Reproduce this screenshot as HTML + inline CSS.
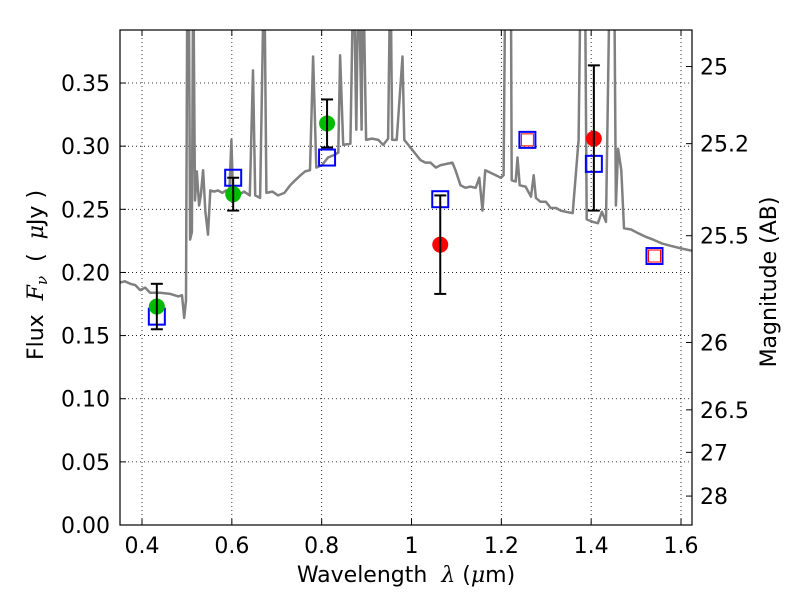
<!DOCTYPE html>
<html><head><meta charset="utf-8"><style>
body{margin:0;background:#fff;}
svg{display:block;font-family:"DejaVu Sans","Liberation Sans",sans-serif;}
</style></head><body>
<svg id="chart" width="800" height="600" viewBox="0 0 800 600"></svg>
<script>
// spectrum data (wavelength um, flux uJy)
const specLam=[0.351,0.362,0.374,0.385,0.396,0.407,0.418,0.440,0.463,0.481,0.489,0.494,0.498,0.501,0.504,0.507,0.511,0.514,0.518,0.522,0.527,0.531,0.536,0.541,0.547,0.552,0.561,0.569,0.579,0.587,0.594,0.599,0.603,0.614,0.627,0.640,0.647,0.652,0.663,0.672,0.677,0.690,0.703,0.717,0.730,0.741,0.753,0.763,0.774,0.781,0.788,0.801,0.814,0.828,0.837,0.841,0.848,0.864,0.871,0.877,0.882,0.889,0.892,0.899,0.912,0.926,0.937,0.948,0.953,0.957,0.967,0.980,0.984,0.993,1.002,1.020,1.031,1.042,1.054,1.065,1.091,1.098,1.109,1.120,1.131,1.143,1.151,1.158,1.164,1.176,1.199,1.205,1.209,1.221,1.223,1.232,1.236,1.241,1.254,1.266,1.272,1.277,1.287,1.299,1.310,1.322,1.332,1.344,1.359,1.372,1.377,1.386,1.390,1.404,1.415,1.424,1.433,1.442,1.451,1.455,1.460,1.467,1.473,1.489,1.505,1.523,1.538,1.557,1.578,1.601,1.627];
const specFlux=[0.192,0.193,0.191,0.190,0.186,0.188,0.184,0.184,0.183,0.181,0.182,0.164,0.178,0.45,0.45,0.226,0.232,0.45,0.257,0.280,0.253,0.261,0.281,0.249,0.230,0.265,0.264,0.265,0.263,0.265,0.259,0.305,0.257,0.261,0.264,0.261,0.360,0.261,0.259,0.45,0.263,0.264,0.261,0.263,0.269,0.273,0.277,0.280,0.281,0.371,0.283,0.285,0.291,0.293,0.295,0.372,0.301,0.302,0.45,0.313,0.45,0.313,0.45,0.305,0.306,0.305,0.301,0.306,0.45,0.305,0.305,0.371,0.305,0.301,0.297,0.289,0.287,0.287,0.283,0.285,0.287,0.281,0.269,0.267,0.268,0.267,0.275,0.249,0.281,0.279,0.275,0.277,0.45,0.45,0.273,0.272,0.291,0.269,0.268,0.260,0.277,0.259,0.256,0.256,0.251,0.251,0.249,0.248,0.247,0.305,0.45,0.45,0.242,0.240,0.239,0.248,0.240,0.45,0.45,0.253,0.298,0.281,0.235,0.234,0.231,0.228,0.226,0.223,0.221,0.219,0.217];
// observed photometry
const greenLam=[0.433,0.603,0.812];
const greenFlux=[0.173,0.262,0.318];
const greenErrHi=[0.191,0.275,0.337];
const greenErrLo=[0.155,0.249,0.299];
const redLam=[1.064,1.406];
const redFlux=[0.222,0.306];
const redErrHi=[0.261,0.364];
const redErrLo=[0.183,0.249];
// model photometry
const modelLam=[0.433,0.603,0.812,1.064,1.258,1.406,1.541];
const modelFlux=[0.165,0.275,0.291,0.258,0.305,0.286,0.213];
const modelRedInner=[false,false,false,false,true,false,true];
// axis ticks
const xTicks=[0.4,0.6,0.8,1.0,1.2,1.4,1.6];
const xTickLabels=["0.4","0.6","0.8","1","1.2","1.4","1.6"];
const yTicks=[0,0.05,0.10,0.15,0.20,0.25,0.30,0.35];
const yTickLabels=["0.00","0.05","0.10","0.15","0.20","0.25","0.30","0.35"];
const magTicks=[25,25.2,25.5,26,26.5,27,28];
const magTickLabels=["25","25.2","25.5","26","26.5","27","28"];

const L=120,R=692,T=30,B=525;
const xMin=0.351,xMax=1.6245,yMin=0,yMax=0.392;
const sx=v=>L+(v-xMin)/(xMax-xMin)*(R-L);
const sy=v=>B-(v-yMin)/(yMax-yMin)*(B-T);
const NS="http://www.w3.org/2000/svg";
const svg=document.getElementById('chart');
function mk(tag,attrs,parent){const e=document.createElementNS(NS,tag);for(const k in attrs)e.setAttribute(k,attrs[k]);(parent||svg).appendChild(e);return e;}

const defs=mk('defs',{});
const cp=mk('clipPath',{id:'clip'},defs);
mk('rect',{x:L,y:T,width:R-L,height:B-T},cp);

// grid
const grid=mk('g',{});


xTicks.forEach(v=>{mk('line',{x1:sx(v),x2:sx(v),y1:T,y2:B,stroke:'#000','stroke-width':0.8,'stroke-dasharray':'1,3'},grid);});
yTicks.forEach(v=>{if(v>0)mk('line',{x1:L,x2:R,y1:sy(v),y2:sy(v),stroke:'#000','stroke-width':0.8,'stroke-dasharray':'1,3'},grid);});

// spectrum
let d='';
specLam.forEach((l,i)=>{d+=(i?'L':'M')+sx(l).toFixed(1)+','+sy(specFlux[i]).toFixed(1);});
const sp=mk('path',{d:d,fill:'none',stroke:'#808080','stroke-width':2.5,'stroke-linejoin':'round','clip-path':'url(#clip)'});



// model squares
modelLam.forEach((l,i)=>{
  const g=mk('g',{});
  
  
  const x=sx(l),y=sy(modelFlux[i]);
  mk('rect',{x:x-8,y:y-8,width:16,height:16,fill:'none',stroke:'#0000ff','stroke-width':2},g);
  if(modelRedInner[i])mk('rect',{x:x-6,y:y-6,width:12,height:12,fill:'none',stroke:'#ff0000','stroke-width':1},g);
});

function pts(lams,fl,hi,lo,color,name){
  lams.forEach((l,i)=>{
    const g=mk('g',{});
    
    
    const x=sx(l);
    mk('circle',{cx:x,cy:sy(fl[i]),r:8,fill:color},g);
    mk('line',{x1:x,x2:x,y1:sy(hi[i]),y2:sy(lo[i]),stroke:'#000','stroke-width':2},g);
    mk('line',{x1:x-6,x2:x+6,y1:sy(hi[i]),y2:sy(hi[i]),stroke:'#000','stroke-width':2},g);
    mk('line',{x1:x-6,x2:x+6,y1:sy(lo[i]),y2:sy(lo[i]),stroke:'#000','stroke-width':2},g);
  });
}
pts(greenLam,greenFlux,greenErrHi,greenErrLo,'#00bb00','observed-point-green');
pts(redLam,redFlux,redErrHi,redErrLo,'#ff0000','observed-point-red');

// frame
const fr=mk('rect',{x:L,y:T,width:R-L,height:B-T,fill:'none',stroke:'#000','stroke-width':1.2});



// x ticks
xTicks.forEach((v,i)=>{
  const x=sx(v);
  mk('line',{x1:x,x2:x,y1:B,y2:B-6,stroke:'#000'});
  mk('line',{x1:x,x2:x,y1:T,y2:T+6,stroke:'#000'});
  const t=mk('text',{x:x,y:B+28,'text-anchor':'middle','font-size':22});
  t.textContent=xTickLabels[i];
  
  
});
yTicks.forEach((v,i)=>{
  const y=sy(v);
  mk('line',{x1:L,x2:L+6,y1:y,y2:y,stroke:'#000'});
  const t=mk('text',{x:L-10,y:y+8,'text-anchor':'end','font-size':22});
  t.textContent=yTickLabels[i];
  
  
});
magTicks.forEach((m,i)=>{
  const f=Math.pow(10,(23.9-m)/2.5);
  const y=sy(f);
  mk('line',{x1:R,x2:R-6,y1:y,y2:y,stroke:'#000'});
  const t=mk('text',{x:R+8,y:y+8,'text-anchor':'start','font-size':22});
  t.textContent=magTickLabels[i];
  
  
});
</script>
<div style="position:absolute;left:0;top:0;width:800px;height:600px;pointer-events:none;">
<svg width="800" height="600" style="position:absolute;left:0;top:0;font-family:'DejaVu Sans','Liberation Sans',sans-serif;">
<text x="406" y="582" text-anchor="middle" font-size="22">Wavelength&#160;&#160;<tspan font-style="italic" font-family="'DejaVu Serif','Liberation Serif',serif">λ</tspan> (<tspan font-style="italic" font-family="'DejaVu Serif','Liberation Serif',serif">μ</tspan>m)</text>
<text transform="translate(43,275) rotate(-90)" text-anchor="middle" font-size="22">Flux&#160;&#160;<tspan font-style="italic" font-family="'DejaVu Serif','Liberation Serif',serif">F<tspan font-size="15" dy="4">ν</tspan></tspan><tspan dy="-4">&#160;&#160;(&#160;&#160;</tspan><tspan font-style="italic" font-family="'DejaVu Serif','Liberation Serif',serif">μ</tspan>Jy )</text>
<text transform="translate(776,282) rotate(-90)" text-anchor="middle" font-size="22">Magnitude (AB)</text>
</svg></div>
</body></html>
